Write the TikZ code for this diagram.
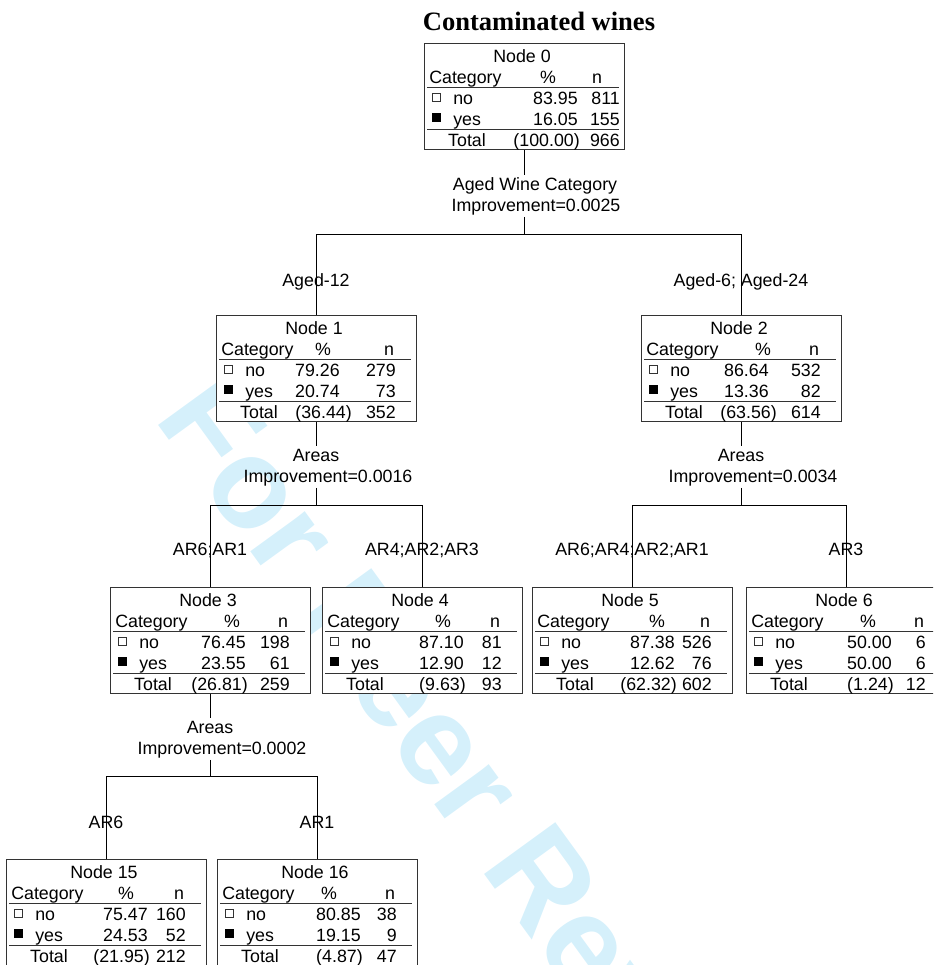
\documentclass[tikz,border=0pt]{standalone}
\usepackage{fontspec}
\setmainfont{Liberation Sans}
\newfontfamily\titlefont{Liberation Serif}

\definecolor{stampblue}{RGB}{213,240,251}
\definecolor{rule}{gray}{0.2}

\tikzset{
  box/.style={draw=rule, fill=white, line width=0.75pt, minimum width=150pt,
    minimum height=79.5pt, inner sep=0pt, anchor=north},
  cell/.style={inner sep=0pt, anchor=base},
  cellw/.style={cell, anchor=base west},
  celle/.style={cell, anchor=base east},
  split/.style={inner sep=1.5pt, anchor=base},
  branch/.style={inner sep=0pt, anchor=base},
  link/.style={line width=0.75pt},
  titletext/.style={inner sep=0pt, anchor=base,
    font=\titlefont\bfseries\fontsize{19.9}{24}\selectfont},
  stamp/.style={inner sep=0pt, anchor=base west, rotate=-54, text=stampblue,
    font=\bfseries\fontsize{96}{100}\selectfont},
}

% right edge of the n column
\def\ncol{80}
% #1 top centre, #2 node number, #3/#4 no, #5/#6 yes, #7 total %, #8 x of % head, #9 x of % column
\newcommand{\catbox}[9]{%
  \begin{scope}[shift={(#1)}]
    \node[box] (n#2) at (0,0) {};
    \node[cell] (n#2-id) at (-2,19) {Node #2};
    \node[cellw] (n#2-cat) at (-95,40) {Category};
    \node[cell] (n#2-pct) at (#8,40) {\%};
    \node[cell] (n#2-n) at (73,40) {n};
    \draw[rule, line width=0.75pt] (-97,44) -- (95,44) (-97,86) -- (95,86);
    \draw[rule, line width=0.5pt, fill=white] (-92,50) rectangle (-84,58);
    \fill (-92,70) rectangle (-83,79);
    \node[cellw] (n#2-no) at (-71,61) {no};
    \node[celle] (n#2-nop) at (#9,61) {#3};
    \node[celle] (n#2-non) at (\ncol,61) {#4};
    \node[cellw] (n#2-yes) at (-71,82) {yes};
    \node[celle] (n#2-yesp) at (#9,82) {#5};
    \node[celle] (n#2-yesn) at (\ncol,82) {#6};
    \node[cell] (n#2-tot) at (-57,103) {Total};
    \node[celle] (n#2-totp) at ({max(#9+2,36)},103) {#7};
    \node[celle] (n#2-totn) at (\ncol,103) {\the\numexpr#4+#6\relax};
  \end{scope}}

\begin{document}
\begin{tikzpicture}[x=0.75pt,y=-0.75pt,font=\fontsize{13.35}{16}\selectfont]
  \useasboundingbox (0,0) rectangle (933,965);
  \clip (0,0) rectangle (933,965);
  \node[stamp] (wm) at (153,418) {For Peer Review};
  \node[titletext] (title) at (539,30) {Contaminated wines};

  {\def\ncol{96}\catbox{524,43}{0}{83.95}{811}{16.05}{155}{(100.00)}{24}{54}}
  \catbox{316,315}{1}{79.26}{279}{20.74}{73}{(36.44)}{7}{24}
  \catbox{741,315}{2}{86.64}{532}{13.36}{82}{(63.56)}{22}{28}
  \catbox{210,587}{3}{76.45}{198}{23.55}{61}{(26.81)}{22}{36}
  \catbox{422,587}{4}{87.10}{81}{12.90}{12}{(9.63)}{21}{42}
  \catbox{632,587}{5}{87.38}{526}{12.62}{76}{(62.32)}{25}{43}
  \catbox{846,587}{6}{50.00}{6}{50.00}{6}{(1.24)}{22}{46}
  \catbox{106,859}{15}{75.47}{160}{24.53}{52}{(21.95)}{20}{42}
  \catbox{317,859}{16}{80.85}{38}{19.15}{9}{(4.87)}{12}{44}

  % split of node 0
  \node[split] (v0) at (535,190) {Aged Wine Category};
  \node[split] (i0) at (536,211) {Improvement=0.0025};
  \coordinate (h0) at (524,234);
  \draw[link] (n0.south) -- (n0.south |- v0.north);
  \draw[link] (n0.south |- i0.south) -- (h0) -| (n1.north);
  \draw[link] (h0) -| (n2.north);
  \node[branch] (b1) at (316,286) {Aged-12};
  \node[branch] (b2) at (741,286) {Aged-6; Aged-24};

  % split of node 1
  \node[split] (v1) at (316,461) {Areas};
  \node[split] (i1) at (328,482) {Improvement=0.0016};
  \coordinate (h1) at (316,505);
  \draw[link] (n1.south) -- (n1.south |- v1.north);
  \draw[link] (n1.south |- i1.south) -- (h1) -| (n3.north);
  \draw[link] (h1) -| (n4.north);
  \node[branch] (b3) at (210,555) {AR6;AR1};
  \node[branch] (b4) at (422,555) {AR4;AR2;AR3};

  % split of node 2
  \node[split] (v2) at (741,461) {Areas};
  \node[split] (i2) at (753,482) {Improvement=0.0034};
  \coordinate (h2) at (741,505);
  \draw[link] (n2.south) -- (n2.south |- v2.north);
  \draw[link] (n2.south |- i2.south) -- (h2) -| (n5.north);
  \draw[link] (h2) -| (n6.north);
  \node[branch] (b5) at (632,555) {AR6;AR4;AR2;AR1};
  \node[branch] (b6) at (846,555) {AR3};

  % split of node 3
  \node[split] (v3) at (210,733) {Areas};
  \node[split] (i3) at (222,754) {Improvement=0.0002};
  \coordinate (h3) at (210,776);
  \draw[link] (n3.south) -- (n3.south |- v3.north);
  \draw[link] (n3.south |- i3.south) -- (h3) -| (n15.north);
  \draw[link] (h3) -| (n16.north);
  \node[branch] (b15) at (106,828) {AR6};
  \node[branch] (b16) at (317,828) {AR1};
\end{tikzpicture}
\end{document}
